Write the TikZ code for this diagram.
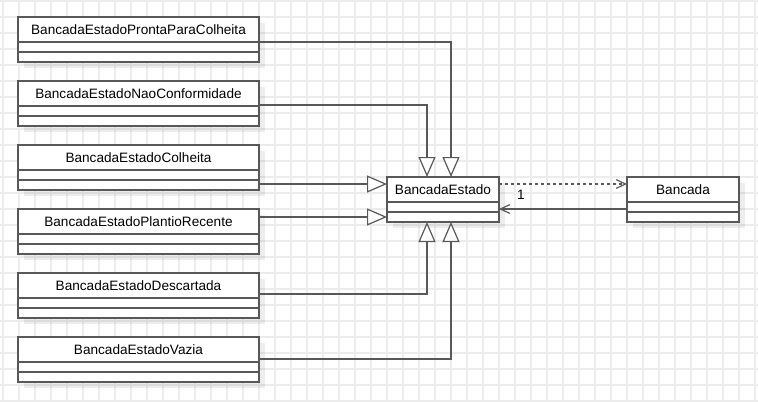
\documentclass[tikz,border=0pt]{standalone}
\usepackage{fontspec}
\setmainfont{Liberation Sans}
\usetikzlibrary{arrows.meta,calc}
\definecolor{strokec}{RGB}{88,88,88}
\definecolor{gridc}{RGB}{236,236,236}
\tikzset{
  classbox/.style={draw=strokec, line width=0.9pt, fill=white, anchor=north west,
    minimum height=45*0.75pt, inner sep=0pt, outer sep=0pt},
  classtitle/.style={inner sep=0pt, font=\fontsize{10.2pt}{12pt}\selectfont},
  sepline/.style={draw=strokec, line width=0.9pt},
  shadowc/.style={fill=black, fill opacity=0.07},
  gen/.style={draw=strokec, line width=0.9pt,
    -{Triangle[length=15pt, width=12.75pt, fill=white]}},
  dep/.style={draw=strokec, line width=0.9pt, dash pattern=on 2.25pt off 2.25pt,
    -{Straight Barb[length=7pt, width=6.5pt]}},
  assoc/.style={draw=strokec, line width=0.9pt,
    -{Straight Barb[length=7pt, width=6.5pt]}},
  gridline/.style={draw=gridc, line width=0.8pt},
  mult/.style={inner sep=0pt, font=\fontsize{10.2pt}{12pt}\selectfont},
}
\newcommand\umlclass[5]{%
  \fill[shadowc] (#2+6,#3+6) rectangle ++(#4,45);
  \node[classbox, minimum width=#4*0.75pt] (#1) at (#2,#3) {};
  \node[classtitle] (#1-t) at ($(#1.north)+(0,12.5)$) {#5};
  \draw[sepline] ($(#1.north west)+(0,25)$) -- ($(#1.north east)+(0,25)$);
  \draw[sepline] ($(#1.north west)+(0,35)$) -- ($(#1.north east)+(0,35)$);
}
\begin{document}
\begin{tikzpicture}[x=0.75pt, y=-0.75pt]
\useasboundingbox (0,0) rectangle (758,401);
\fill[white] (0,0) rectangle (758,401);
\foreach \gx in {3,19,...,755} \draw[gridline] (\gx,0) -- (\gx,401);
\foreach \gy in {1,17,...,401} \draw[gridline] (0,\gy) -- (758,\gy);

\umlclass{c1}{18}{17}{241}{BancadaEstadoProntaParaColheita}
\umlclass{c2}{18}{81}{241}{BancadaEstadoNaoConformidade}
\umlclass{c3}{18}{145}{241}{BancadaEstadoColheita}
\umlclass{c4}{18}{209}{241}{BancadaEstadoPlantioRecente}
\umlclass{c5}{18}{273}{241}{BancadaEstadoDescartada}
\umlclass{c6}{18}{337}{241}{BancadaEstadoVazia}
\umlclass{be}{387}{177}{112}{BancadaEstado}
\umlclass{b}{627}{177}{112}{Bancada}

% generalizations
\draw[gen] ($(c1.north east)+(0,25)$) -| ($(be.north)+(8,0)$);
\draw[gen] ($(c2.north east)+(0,24)$) -| ($(be.north)+(-16,0)$);
\coordinate (p3) at ($(c3.north east)+(0,39)$);
\draw[gen] (p3) -- (be.west |- p3);
\coordinate (p4) at ($(c4.north east)+(0,8)$);
\draw[gen] (p4) -- (be.west |- p4);
\draw[gen] ($(c5.north east)+(0,21)$) -| ($(be.south)+(-16,0)$);
\draw[gen] ($(c6.north east)+(0,22)$) -| ($(be.south)+(8,0)$);

% dependency and association
\draw[dep] ($(be.north east)+(0,7)$) -- ($(b.north west)+(0,7)$);
\draw[assoc] ($(b.north west)+(0,32)$) -- ($(be.north east)+(0,32)$);
\node[mult] (one) at (521,195) {1};
\end{tikzpicture}
\end{document}
